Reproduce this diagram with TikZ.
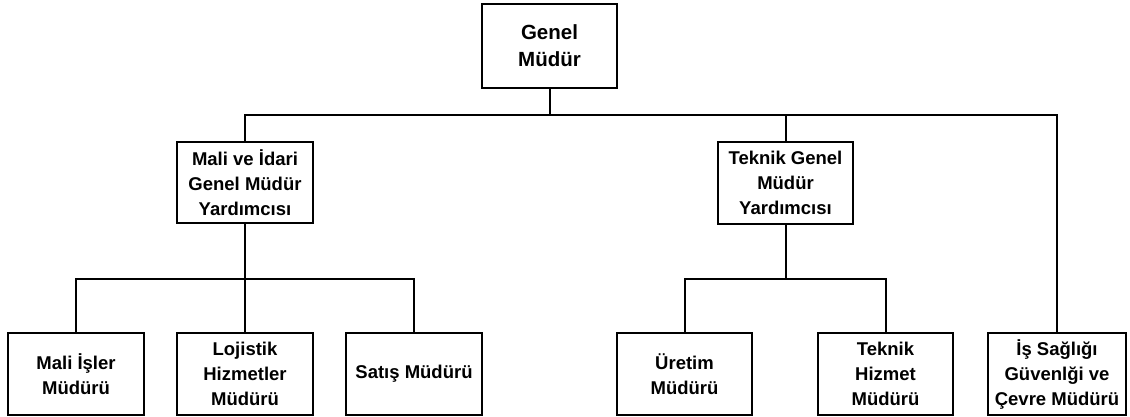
\documentclass[tikz,border=0pt]{standalone}
\usepackage{fontspec}
\setmainfont{Liberation Sans}
\begin{document}
\begin{tikzpicture}[x=1pt,y=-1pt,
  box/.style={draw,line width=2pt,inner sep=0pt,minimum width=136pt,minimum height=82pt,align=center,font=\fontsize{18.5}{25}\selectfont\bfseries},
  topbox/.style={box,minimum width=135pt,minimum height=84pt,font=\fontsize{20.5}{27}\selectfont\bfseries},
  link/.style={line width=2pt}]
\useasboundingbox (0,0) rectangle (1130,416);
\node[topbox] (gm) at (549.5,46) {Genel\\Müdür};
\node[box,minimum height=81pt] (mi) at (245,182.5) {Mali ve İdari\\Genel Müdür\\Yardımcısı};
\node[box,minimum width=135pt] (tg) at (785.5,183) {Teknik Genel\\Müdür\\Yardımcısı};
\node[box] (b1) at (76,374) {Mali İşler\\Müdürü};
\node[box] (b2) at (245,374) {Lojistik\\Hizmetler\\Müdürü};
\node[box] (b3) at (414,374) {Satış Müdürü};
\node[box,minimum width=135pt] (b4) at (684.5,374) {Üretim\\Müdürü};
\node[box,minimum width=135pt] (b5) at (885.5,374) {Teknik\\Hizmet\\Müdürü};
\node[box,minimum width=138pt] (b6) at (1057,374) {İş Sağlığı\\Güvenlği ve\\Çevre Müdürü};
\coordinate (j1) at (549.5,115);
\coordinate (j2) at (245,279);
\coordinate (j3) at (785.5,279);
\draw[link] (gm.south) -- (j1);
\draw[link] (mi.north) |- (j1) -| (b6.north);
\draw[link] (tg.north) -- (tg.north |- j1);
\draw[link] (mi.south) -- (b2.north);
\draw[link] (b1.north) |- (j2) -| (b3.north);
\draw[link] (tg.south) -- (j3);
\draw[link] (b4.north) |- (j3) -| (b5.north);
\end{tikzpicture}
\end{document}
